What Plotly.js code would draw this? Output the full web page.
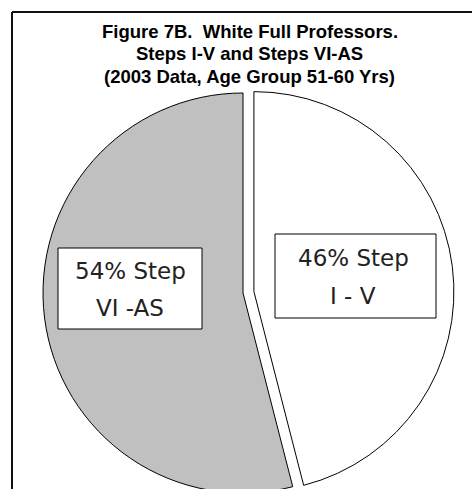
<!DOCTYPE html>
<html>
<head>
<meta charset="utf-8">
<script src="https://cdn.plot.ly/plotly-3.0.1.min.js"></script>
<style>
html,body{margin:0;padding:0;overflow:hidden;background:#fff;}
#chart{width:472px;height:520px;}
</style>
</head>
<body>
<div id="chart"></div>
<script>
// Data
var categories = ["I - V", "VI -AS"];
var percents = [46, 54];
var sliceColors = ["#ffffff", "#c0c0c0"];
var pulls = [0.055, 0];
var titleLines = ["Figure 7B.\u00a0 White Full Professors.", "Steps I-V and Steps VI-AS", "(2003 Data, Age Group 51-60 Yrs)"];

var W = 472, H = 520;
function px(x){ return x / W; }
function py(y){ return 1 - y / H; }

var cx = 243, cy = 293, half = 211;

var trace = {
  type: "pie",
  values: percents,
  labels: categories,
  sort: false,
  direction: "clockwise",
  rotation: 0,
  pull: pulls,
  marker: {colors: sliceColors, line: {color: "#000000", width: 1}},
  textinfo: "none",
  hoverinfo: "none",
  showlegend: false,
  domain: {x: [px(cx - half), px(cx + half)], y: [py(cy + half), py(cy - half)]}
};

// label boxes [x0, x1, y0, y1, line1 mid y, line2 mid y, text center x]
var boxes = [
  [275, 436, 234, 318, 258, 296, 353],
  [58, 202, 248, 329, 271, 308, 130]
];

var shapes = [
  {type: "line", xref: "paper", yref: "paper", x0: px(12), x1: px(480), y0: py(12), y1: py(12), line: {color: "#111", width: 2}},
  {type: "line", xref: "paper", yref: "paper", x0: px(12), x1: px(12), y0: py(12), y1: py(530), line: {color: "#111", width: 2}}
];
var annotations = [];
var titleMidY = [31.4, 53.9, 76.4];
titleLines.forEach(function(t, i){
  annotations.push({xref: "paper", yref: "paper", x: px(249.5), y: py(titleMidY[i]), xanchor: "center", yanchor: "middle",
    text: t, showarrow: false, font: {family: "Liberation Sans, Arial, sans-serif", size: 18.5, color: "#000", weight: "bold"}});
});
boxes.forEach(function(b, i){
  shapes.push({type: "rect", xref: "paper", yref: "paper", x0: px(b[0]), x1: px(b[1]), y0: py(b[2]), y1: py(b[3]),
    fillcolor: "#ffffff", line: {color: "#000000", width: 1}, layer: "above"});
  annotations.push({xref: "paper", yref: "paper", x: px(b[6]), y: py(b[4]), xanchor: "center", yanchor: "middle",
    text: percents[i] + "% Step", showarrow: false, font: {family: "DejaVu Sans", size: 23, color: "#222"}});
  annotations.push({xref: "paper", yref: "paper", x: px(b[6]), y: py(b[5]), xanchor: "center", yanchor: "middle",
    text: categories[i], showarrow: false, font: {family: "DejaVu Sans", size: 23, color: "#222"}});
});

var layout = {
  width: W, height: H,
  margin: {l: 0, r: 0, t: 0, b: 0},
  paper_bgcolor: "#ffffff",
  shapes: shapes,
  annotations: annotations
};

Plotly.newPlot("chart", [trace], layout, {staticPlot: true, displayModeBar: false});
</script>
</body>
</html>
